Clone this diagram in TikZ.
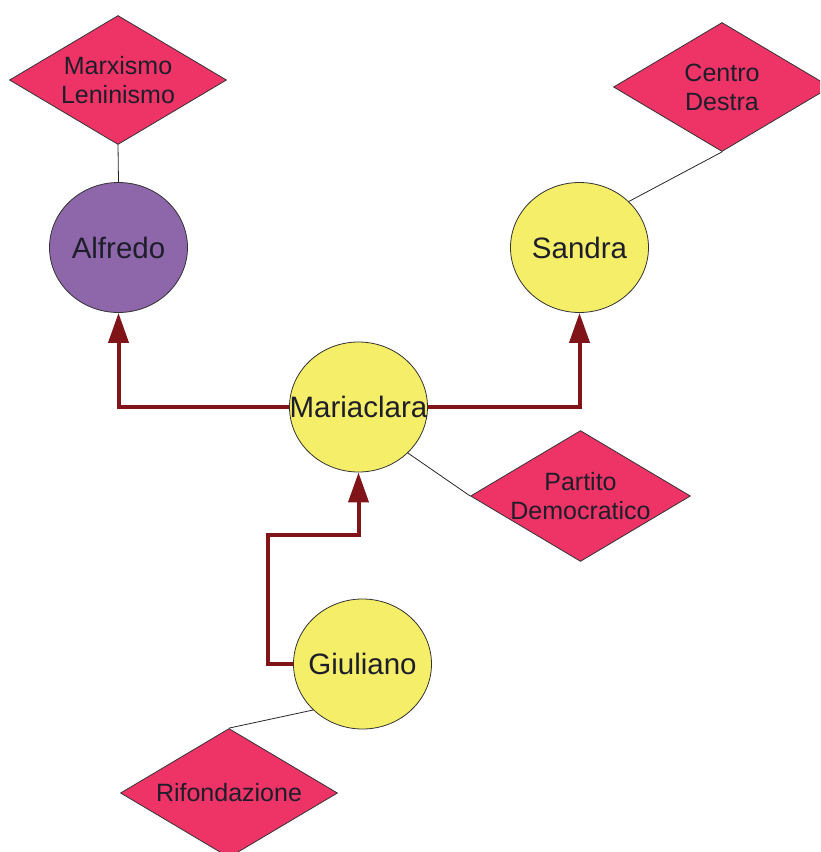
\documentclass[tikz,border=0pt]{standalone}
\usepackage{fontspec}
\setmainfont{Liberation Sans}
\usetikzlibrary{shapes.geometric, arrows.meta}

\definecolor{partyred}{HTML}{EE3366}
\definecolor{persyellow}{HTML}{F5EE68}
\definecolor{perspurple}{HTML}{8E67AA}
\definecolor{linkred}{HTML}{801418}
\definecolor{inkdark}{HTML}{1E1E2A}

\begin{document}
\begin{tikzpicture}[x=1pt, y=-1pt,
  person/.style={ellipse, draw=black!80, line width=0.8pt, fill=persyellow,
    minimum width=138pt, minimum height=130pt, inner xsep=-22pt, inner ysep=0pt,
    text=inkdark, font=\fontsize{29.5}{33}\selectfont},
  party/.style={diamond, aspect=1.68, draw=black!80, line width=0.8pt, fill=partyred,
    minimum width=217pt, minimum height=129pt, inner sep=0pt,
    text=inkdark, align=center, font=\fontsize{25}{29}\selectfont},
  link/.style={line width=4pt, linkred, -{Triangle[length=30pt, width=20pt]}},
  tie/.style={line width=0.8pt, black!85}]
  \useasboundingbox (0, 0) rectangle (820, 852);
  \clip (0, 0) rectangle (820, 852);

  % Parties
  \node[party] (marxismo) at (118, 80) {Marxismo\\Leninismo};
  \node[party] (centro) at (722, 87) {Centro\\Destra};
  \node[party] (partito) at (580.5, 496) {Partito\\Democratico};
  \node[party] (rifondazione) at (229, 793) {Rifondazione};

  % People
  \node[person, fill=perspurple] (alfredo) at (118.5, 247.5) {Alfredo};
  \node[person] (sandra) at (579.5, 247.5) {Sandra};
  \node[person] (mariaclara) at (358.5, 407) {Mariaclara};
  \node[person] (giuliano) at (362.5, 664) {Giuliano};

  % Votes
  \draw[tie] (alfredo.north) -- (marxismo.south);
  \draw[tie] (sandra.43) -- (centro.south);
  \draw[tie] (mariaclara.317) -- (partito.west);
  \draw[tie] (giuliano.223) -- (rifondazione.north);

  % Influence
  \coordinate (kink) at (268, 535);
  \draw[link] (mariaclara.west) -| (alfredo.south);
  \draw[link] (mariaclara.east) -| (sandra.south);
  \draw[link] (giuliano.west) -| (kink) -| (mariaclara.south);
\end{tikzpicture}
\end{document}
